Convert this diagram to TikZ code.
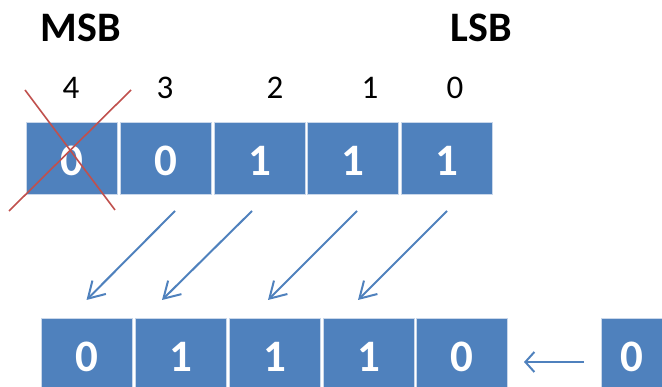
\documentclass[tikz,border=0pt]{standalone}
\usepackage{fontspec}
\setmainfont{Carlito}
\usetikzlibrary{arrows.meta}
\definecolor{bitblue}{HTML}{4F81BD}
\definecolor{crossred}{HTML}{C0504D}
\definecolor{bordr}{HTML}{C9D7EA}
\begin{document}
\begin{tikzpicture}[x=1pt,y=-1pt,
  bitbox/.style={rectangle,fill=bitblue,draw=bordr,line width=0.8pt,minimum width=91pt,minimum height=72pt,inner sep=0pt},
  bitval/.style={text=white,font=\fontsize{45}{45}\selectfont\bfseries,inner sep=0pt},
  idx/.style={font=\fontsize{33}{33}\selectfont,inner sep=0pt},
  hdr/.style={font=\fontsize{42}{42}\selectfont\bfseries,inner sep=0pt},
  shiftarrow/.style={draw=bitblue,line width=2pt,-{Straight Barb[length=16pt,width=19pt,line width=2pt]}},
  inarrow/.style={draw=bitblue,line width=2pt,-{Straight Barb[length=9pt,width=20pt,line width=2pt]}},
  cross/.style={draw=crossred,line width=1.6pt}
]
\useasboundingbox (0,0) rectangle (662,387);
\begin{scope}
\clip (0,0) rectangle (662,387);
% headers
\node[hdr] (msb) at (81,28) {MSB};
\node[hdr] (lsb) at (481,28) {LSB};
% indices
\node[idx] (i4) at (71,88) {4};
\node[idx] (i3) at (165,88) {3};
\node[idx] (i2) at (275,88) {2};
\node[idx] (i1) at (370,88) {1};
\node[idx] (i0) at (455,88) {0};
% top row
\node[bitbox] (t4) at (71.5,158) {};
\node[bitbox] (t3) at (165.5,158) {};
\node[bitbox] (t2) at (259.5,158) {};
\node[bitbox] (t1) at (353,158) {};
\node[bitbox] (t0) at (446.5,158) {};
\node[bitval] (v4) at ([yshift=-3pt]t4.center) {0};
\node[bitval] (v3) at ([yshift=-3pt]t3.center) {0};
\node[bitval] (v2) at ([yshift=-3pt]t2.center) {1};
\node[bitval] (v1) at ([yshift=-3pt]t1.center) {1};
\node[bitval] (v0) at ([yshift=-3pt]t0.center) {1};
% bottom row
\node[bitbox] (b4) at (87,354) {};
\node[bitbox] (b3) at (181,354) {};
\node[bitbox] (b2) at (274.5,354) {};
\node[bitbox] (b1) at (368.5,354) {};
\node[bitbox] (b0) at (461.5,354) {};
\node[bitbox] (bin) at (647,354) {};
\node[bitval] (w4) at ([yshift=-3pt]b4.center) {0};
\node[bitval] (w3) at ([yshift=-3pt]b3.center) {1};
\node[bitval] (w2) at ([yshift=-3pt]b2.center) {1};
\node[bitval] (w1) at ([yshift=-3pt]b1.center) {1};
\node[bitval] (w0) at ([yshift=-3pt]b0.center) {0};
\node[bitval] (win) at ([yshift=-3pt,xshift=-15pt]bin.center) {0};
% red cross
\coordinate (xa) at (25,90);
\coordinate (xb) at (115,210);
\coordinate (xc) at (131,90);
\coordinate (xd) at (9,211);
\draw[cross] (xa) -- (xb);
\draw[cross] (xc) -- (xd);
% shift arrows
\coordinate (s3) at (175,211);
\coordinate (e3) at (86.5,300);
\coordinate (s2) at (252,211);
\coordinate (e2) at (162,300);
\coordinate (s1) at (357,211);
\coordinate (e1) at (268,300);
\coordinate (s0) at (447,211);
\coordinate (e0) at (358,300);
\draw[shiftarrow] (s3) -- (e3);
\draw[shiftarrow] (s2) -- (e2);
\draw[shiftarrow] (s1) -- (e1);
\draw[shiftarrow] (s0) -- (e0);
% incoming zero arrow
\coordinate (ia) at (584,362);
\coordinate (ib) at (524,362);
\draw[inarrow] (ia) -- (ib);
\end{scope}
\end{tikzpicture}
\end{document}
